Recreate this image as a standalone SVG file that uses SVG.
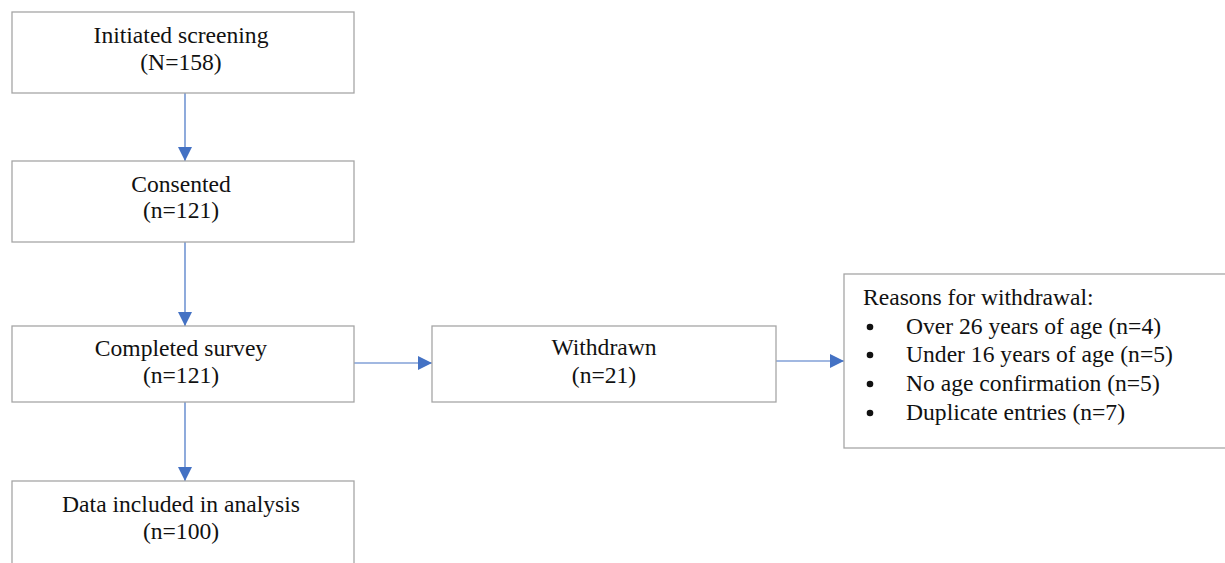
<svg xmlns="http://www.w3.org/2000/svg" width="1225" height="563" viewBox="0 0 1225 563">
  <style>
    .box { fill: #ffffff; stroke: #a6a6a6; stroke-width: 1.3; }
    .lbl { font-family: "Liberation Serif", "DejaVu Serif", "Times New Roman", serif; font-size: 23.6px; fill: #111111; }
    .mid { text-anchor: middle; }
    .conn { stroke: #4472c4; stroke-width: 1.2; fill: none; marker-end: url(#arrow); }
  </style>
  <defs>
    <marker id="arrow" viewBox="0 0 14 14" refX="14" refY="7" markerWidth="14" markerHeight="14" markerUnits="userSpaceOnUse" orient="auto">
      <path d="M0,0 L14,7 L0,14 Z" fill="#4472c4"/>
    </marker>
  </defs>
  <rect width="1225" height="563" fill="#ffffff"/>

  <g id="connectors">
    <line class="conn" x1="185" y1="93" x2="185" y2="161"/>
    <line class="conn" x1="185" y1="242" x2="185" y2="326"/>
    <line class="conn" x1="185" y1="402" x2="185" y2="481"/>
    <line class="conn" x1="354" y1="363" x2="432" y2="363"/>
    <line class="conn" x1="776" y1="361" x2="844" y2="361"/>
  </g>

  <g id="initiated">
    <rect class="box" x="12" y="12" width="342" height="81"/>
    <text class="lbl mid" x="181" y="43">Initiated screening</text>
    <text class="lbl mid" x="181" y="70">(N=158)</text>
  </g>

  <g id="consented">
    <rect class="box" x="12" y="161" width="342" height="81"/>
    <text class="lbl mid" x="181" y="192">Consented</text>
    <text class="lbl mid" x="181" y="218">(n=121)</text>
  </g>

  <g id="completed">
    <rect class="box" x="12" y="326" width="342" height="76"/>
    <text class="lbl mid" x="181" y="356">Completed survey</text>
    <text class="lbl mid" x="181" y="383">(n=121)</text>
  </g>

  <g id="included">
    <rect class="box" x="12" y="481" width="342" height="100"/>
    <text class="lbl mid" x="181" y="512">Data included in analysis</text>
    <text class="lbl mid" x="181" y="539">(n=100)</text>
  </g>

  <g id="withdrawn">
    <rect class="box" x="432" y="326" width="344" height="76"/>
    <text class="lbl mid" x="604" y="355">Withdrawn</text>
    <text class="lbl mid" x="604" y="383">(n=21)</text>
  </g>

  <g id="reasons">
    <rect class="box" x="844" y="274" width="390" height="174"/>
    <text class="lbl" x="863" y="305">Reasons for withdrawal:</text>
    <g fill="#111111">
      <circle cx="870" cy="327" r="3.3"/>
      <circle cx="870" cy="355" r="3.3"/>
      <circle cx="870" cy="384" r="3.3"/>
      <circle cx="870" cy="413" r="3.3"/>
    </g>
    <text class="lbl" x="906" y="334">Over 26 years of age (n=4)</text>
    <text class="lbl" x="906" y="362">Under 16 years of age (n=5)</text>
    <text class="lbl" x="906" y="391">No age confirmation (n=5)</text>
    <text class="lbl" x="906" y="420">Duplicate entries (n=7)</text>
  </g>
</svg>
